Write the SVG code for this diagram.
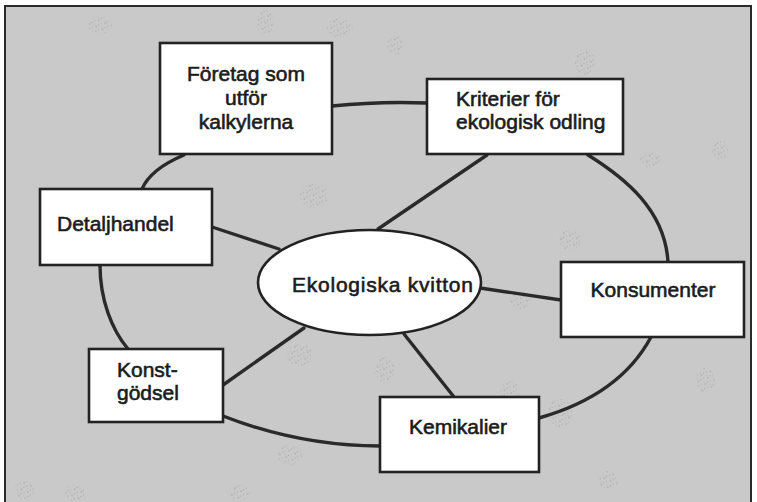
<svg xmlns="http://www.w3.org/2000/svg" width="757" height="502" viewBox="0 0 757 502">
  <defs>
    <pattern id="dots" width="7" height="7" patternUnits="userSpaceOnUse" patternTransform="rotate(23)">
      <circle cx="1" cy="1" r="0.7" fill="#555555"/>
      <circle cx="4.5" cy="3" r="0.6" fill="#6a6a6a"/>
      <circle cx="2.5" cy="5.5" r="0.5" fill="#4a4a4a"/>
      <circle cx="6" cy="6" r="0.4" fill="#5a5a5a"/>
    </pattern>
    <style>
      .bg { fill: #c9c9c9; stroke: #2a2a2a; stroke-width: 2; }
      .speck { fill: url(#dots); opacity: 0.4; }
      .box { fill: #ffffff; stroke: #222222; stroke-width: 2.6; }
      .conn { fill: none; stroke: #2a2a2a; stroke-width: 3.4; stroke-linecap: round; }
      .t { font-family: "Liberation Sans", Arial, sans-serif; font-size: 21px; fill: #1c1c1c; stroke: #1c1c1c; stroke-width: 0.6; }
      .c { text-anchor: middle; }
    </style>
  </defs>
  <rect x="0" y="0" width="757" height="502" fill="#ffffff"/>
  <rect class="bg" x="5" y="6" width="746" height="510"/>

  <g id="texture">
    <ellipse class="speck" cx="100" cy="25" rx="12" ry="9"/>
    <ellipse class="speck" cx="265" cy="22" rx="9" ry="12"/>
    <ellipse class="speck" cx="340" cy="28" rx="13" ry="10"/>
    <ellipse class="speck" cx="395" cy="45" rx="8" ry="10"/>
    <ellipse class="speck" cx="314" cy="196" rx="14" ry="12"/>
    <ellipse class="speck" cx="585" cy="62" rx="10" ry="13"/>
    <ellipse class="speck" cx="650" cy="160" rx="10" ry="8"/>
    <ellipse class="speck" cx="570" cy="240" rx="12" ry="10"/>
    <ellipse class="speck" cx="560" cy="413" rx="12" ry="14"/>
    <ellipse class="speck" cx="608" cy="480" rx="10" ry="9"/>
    <ellipse class="speck" cx="510" cy="393" rx="10" ry="12"/>
    <ellipse class="speck" cx="300" cy="355" rx="13" ry="11"/>
    <ellipse class="speck" cx="385" cy="370" rx="10" ry="13"/>
    <ellipse class="speck" cx="290" cy="455" rx="12" ry="10"/>
    <ellipse class="speck" cx="25" cy="490" rx="10" ry="9"/>
    <ellipse class="speck" cx="75" cy="493" rx="10" ry="8"/>
    <ellipse class="speck" cx="240" cy="493" rx="10" ry="8"/>
    <ellipse class="speck" cx="705" cy="380" rx="10" ry="12"/>
    <ellipse class="speck" cx="720" cy="150" rx="8" ry="10"/>
    <ellipse class="speck" cx="520" cy="300" rx="10" ry="9"/>
  </g>

  <g id="connectors">
    <path class="conn" d="M332,106 Q380,101 427,103"/>
    <path class="conn" d="M184,155 C165,163 148,175 142,189"/>
    <path class="conn" d="M487,155 L378,229"/>
    <path class="conn" d="M588,155 C625,178 665,210 668,262"/>
    <path class="conn" d="M212,227 L279,249"/>
    <path class="conn" d="M100,265 C100,300 112,330 128,349"/>
    <path class="conn" d="M223,385 L304,328"/>
    <path class="conn" d="M223,416 Q300,446 380,446"/>
    <path class="conn" d="M480,288 L561,300"/>
    <path class="conn" d="M404,334 L454,397"/>
    <path class="conn" d="M651,337 Q620,395 539,418"/>
  </g>

  <g id="node-foretag">
    <rect class="box" x="160" y="43" width="172" height="111"/>
    <text class="t c" x="246" y="81">Företag som</text>
    <text class="t c" x="246" y="105">utför</text>
    <text class="t c" x="246" y="129">kalkylerna</text>
  </g>

  <g id="node-kriterier">
    <rect class="box" x="427" y="79" width="196" height="75"/>
    <text class="t" x="456" y="106">Kriterier för</text>
    <text class="t" x="456" y="129">ekologisk odling</text>
  </g>

  <g id="node-detaljhandel">
    <rect class="box" x="40" y="189" width="172" height="76"/>
    <text class="t" x="57" y="231">Detaljhandel</text>
  </g>

  <g id="node-ekologiska-kvitton">
    <ellipse class="box" cx="369.5" cy="282.5" rx="111.5" ry="52.5"/>
    <text class="t" x="292" y="292" textLength="181" lengthAdjust="spacing">Ekologiska kvitton</text>
  </g>

  <g id="node-konsumenter">
    <rect class="box" x="561" y="262" width="183" height="75"/>
    <text class="t c" x="653" y="297">Konsumenter</text>
  </g>

  <g id="node-konstgodsel">
    <rect class="box" x="89" y="349" width="134" height="73"/>
    <text class="t" x="117" y="377">Konst-</text>
    <text class="t" x="117" y="400">gödsel</text>
  </g>

  <g id="node-kemikalier">
    <rect class="box" x="380" y="397" width="159" height="75"/>
    <text class="t c" x="458" y="434">Kemikalier</text>
  </g>
</svg>
